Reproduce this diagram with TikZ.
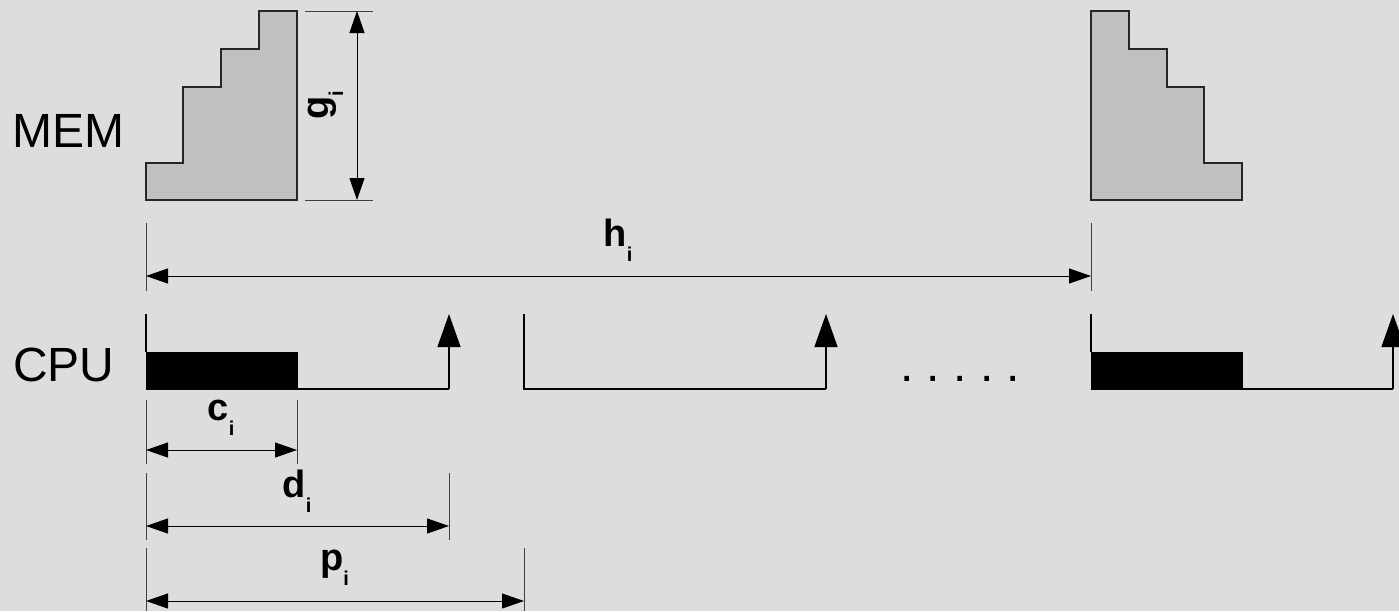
\documentclass[tikz,border=0pt]{standalone}
\usepackage{fontspec}
\setmainfont{Liberation Sans}
\usetikzlibrary{arrows.meta}
\definecolor{bg}{RGB}{221,221,221}
\definecolor{stair}{RGB}{192,192,192}
\frenchspacing
\newcommand{\dimlab}[2]{{\fontsize{38}{38}\selectfont\bfseries #1}\raisebox{-15pt}{\fontsize{20}{20}\selectfont\bfseries #2}}
\begin{document}
\begin{tikzpicture}[x=1pt,y=-1pt,
  ext/.style={line width=0.8pt, draw=black!75},
  dimarrow/.style={line width=1pt, {Triangle[length=22pt,width=15pt]}-{Triangle[length=22pt,width=15pt]}},
  sig/.style={line width=1.3pt},
  evt/.style={line width=1.3pt, -{Triangle[length=33pt,width=23pt]}},
  stairs/.style={fill=stair, draw=black!85, line width=1.3pt},
  busy/.style={fill=black, draw=black, line width=1pt},
  lab/.style={inner sep=0pt, anchor=base},
  row/.style={inner sep=0pt, anchor=base west, font=\fontsize{48}{48}\selectfont}]
\fill[bg] (0,0) rectangle (1399,611);
\useasboundingbox (0,0) rectangle (1399,611);

% row labels
\node[row] (mem) at (12.5,147) {MEM};
\node[row] (cpu) at (13,381) {CPU};

% memory staircases
\draw[stairs] (146,200) -- (146,163) -- (183,163) -- (183,87) -- (221,87) -- (221,49)
  -- (259,49) -- (259,11) -- (297,11) -- (297,200) -- cycle;
\draw[stairs] (1091,200) -- (1091,11) -- (1129,11) -- (1129,49) -- (1167,49) -- (1167,87)
  -- (1204,87) -- (1204,163) -- (1242,163) -- (1242,200) -- cycle;

% g_i dimension
\coordinate (gt1) at (305,11); \coordinate (gt2) at (373,11);
\coordinate (gb1) at (305,200); \coordinate (gb2) at (373,200);
\coordinate (gat) at (357,11); \coordinate (gab) at (357,200);
\draw[ext] (gt1) -- (gt2);
\draw[ext] (gb1) -- (gb2);
\draw[dimarrow] (gat) -- (gab);
\node[lab, rotate=90] (g) at (328,105) {\dimlab{g}{i}};

% h_i dimension
\coordinate (h1t) at (146,223); \coordinate (h1b) at (146,291);
\coordinate (h2t) at (1091,223); \coordinate (h2b) at (1091,291);
\coordinate (ha) at (146,276); \coordinate (hb) at (1091,276);
\draw[ext] (h1t) -- (h1b);
\draw[ext] (h2t) -- (h2b);
\draw[dimarrow] (ha) -- (hb);
\node[lab] (h) at (618,246) {\dimlab{h}{i}};

% CPU timeline, job 1
\coordinate (a0) at (146,314); \coordinate (a1) at (146,352);
\coordinate (b0) at (297,389); \coordinate (b1) at (449,389); \coordinate (b2) at (449,314);
\draw[sig] (a0) -- (a1);
\draw[busy] (146,352) rectangle (297,389);
\draw[sig] (b0) -- (b1);
\draw[evt] (b1) -- (b2);

% job 2
\coordinate (c0) at (524,314); \coordinate (c1) at (524,389);
\coordinate (c2) at (826,389); \coordinate (c3) at (826,314);
\draw[sig] (c0) -- (c1) -- (c2);
\draw[evt] (c2) -- (c3);

\node[row] (dots) at (900,381) {. . . . .};

% job n
\coordinate (e0) at (1091,314); \coordinate (e1) at (1091,352);
\coordinate (f0) at (1242,389); \coordinate (f1) at (1393,389); \coordinate (f2) at (1393,314);
\draw[sig] (e0) -- (e1);
\draw[busy] (1091,352) rectangle (1242,389);
\draw[sig] (f0) -- (f1);
\draw[evt] (f1) -- (f2);

% c_i dimension
\coordinate (ci1t) at (146,400); \coordinate (ci1b) at (146,464);
\coordinate (ci2t) at (297,400); \coordinate (ci2b) at (297,464);
\coordinate (cia) at (146,450); \coordinate (cib) at (297,450);
\draw[ext] (ci1t) -- (ci1b);
\draw[ext] (ci2t) -- (ci2b);
\draw[dimarrow] (cia) -- (cib);
\node[lab] (c) at (221,420) {\dimlab{c}{i}};

% d_i dimension
\coordinate (di1t) at (146,473); \coordinate (di1b) at (146,540);
\coordinate (di2t) at (449,473); \coordinate (di2b) at (449,540);
\coordinate (dia) at (146,526); \coordinate (dib) at (449,526);
\draw[ext] (di1t) -- (di1b);
\draw[ext] (di2t) -- (di2b);
\draw[dimarrow] (dia) -- (dib);
\node[lab] (d) at (297,497) {\dimlab{d}{i}};

% p_i dimension
\coordinate (pi1t) at (146,548); \coordinate (pi1b) at (146,611);
\coordinate (pi2t) at (524,548); \coordinate (pi2b) at (524,611);
\coordinate (pia) at (146,601); \coordinate (pib) at (524,601);
\draw[ext] (pi1t) -- (pi1b);
\draw[ext] (pi2t) -- (pi2b);
\draw[dimarrow] (pia) -- (pib);
\node[lab] (p) at (334.5,570) {\dimlab{p}{i}};
\end{tikzpicture}
\end{document}
